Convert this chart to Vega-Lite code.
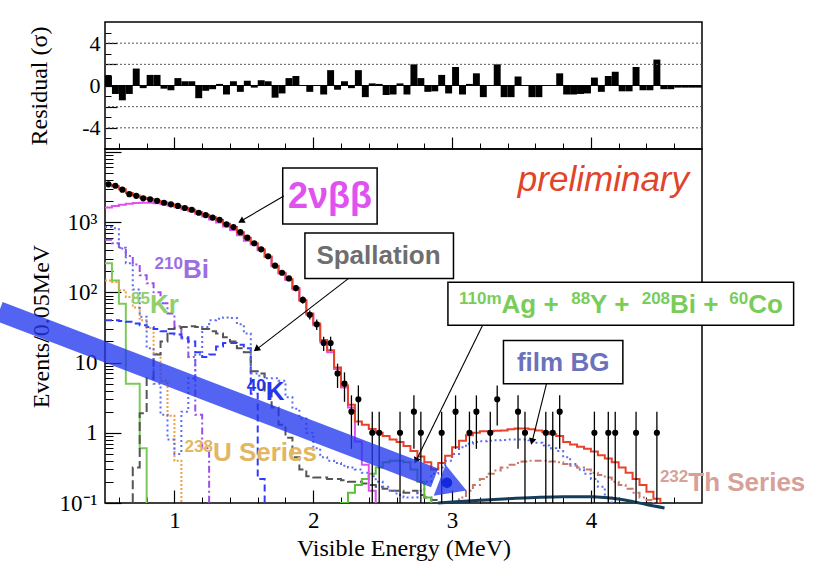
{
"$schema":"https://vega.github.io/schema/vega-lite/v6.json",
"autosize":{"type":"none"},
"padding":{"left":105,"top":22,"right":712,"bottom":544},
"bounds":"flush",
"spacing":0,
"background":"#ffffff",
"datasets":{
"resid":[
{"b":0.5,"e":0.55,"r":0.9},{"b":0.55,"e":0.6,"r":-0.8},{"b":0.6,"e":0.65,"r":-1.4},{"b":0.65,"e":0.7,"r":-0.8},{"b":0.7,"e":0.75,"r":1.6},{"b":0.75,"e":0.8,"r":-0.25},{"b":0.8,"e":0.85,"r":1.0},{"b":0.85,"e":0.9,"r":1.0},{"b":0.9,"e":0.95,"r":-0.3},{"b":0.95,"e":1.0,"r":-0.45},
{"b":1.0,"e":1.05,"r":0.7},{"b":1.05,"e":1.1,"r":0.4},{"b":1.1,"e":1.15,"r":0.4},{"b":1.15,"e":1.2,"r":-1.2},{"b":1.2,"e":1.25,"r":-0.5},{"b":1.25,"e":1.3,"r":-0.35},{"b":1.3,"e":1.35,"r":0.15},{"b":1.35,"e":1.4,"r":-0.85},{"b":1.4,"e":1.45,"r":0.4},{"b":1.45,"e":1.5,"r":-0.6},
{"b":1.5,"e":1.55,"r":0.45},{"b":1.55,"e":1.6,"r":-0.2},{"b":1.6,"e":1.65,"r":0.5},{"b":1.65,"e":1.7,"r":0.4},{"b":1.7,"e":1.75,"r":-1.15},{"b":1.75,"e":1.8,"r":-0.75},{"b":1.8,"e":1.85,"r":0.7},{"b":1.85,"e":1.9,"r":0.9},{"b":1.9,"e":1.95,"r":0.02},{"b":1.95,"e":2.0,"r":-0.6},
{"b":2.0,"e":2.05,"r":0.05},{"b":2.05,"e":2.1,"r":-0.85},{"b":2.1,"e":2.15,"r":1.45},{"b":2.15,"e":2.2,"r":-0.4},{"b":2.2,"e":2.25,"r":0.4},{"b":2.25,"e":2.3,"r":-0.25},{"b":2.3,"e":2.35,"r":1.45},{"b":2.35,"e":2.4,"r":-1.1},{"b":2.4,"e":2.45,"r":0.2},{"b":2.45,"e":2.5,"r":0.15},
{"b":2.5,"e":2.55,"r":-0.9},{"b":2.55,"e":2.6,"r":-0.85},{"b":2.6,"e":2.65,"r":0.2},{"b":2.65,"e":2.7,"r":-0.85},{"b":2.7,"e":2.75,"r":2.0},{"b":2.75,"e":2.8,"r":0.7},{"b":2.8,"e":2.85,"r":-0.6},{"b":2.85,"e":2.9,"r":-0.55},{"b":2.9,"e":2.95,"r":1.0},{"b":2.95,"e":3.0,"r":-0.75},
{"b":3.0,"e":3.05,"r":1.75},{"b":3.05,"e":3.1,"r":-0.85},{"b":3.1,"e":3.15,"r":0.15},{"b":3.15,"e":3.2,"r":1.15},{"b":3.2,"e":3.25,"r":-1.1},{"b":3.25,"e":3.3,"r":0.05},{"b":3.3,"e":3.35,"r":2.0},{"b":3.35,"e":3.4,"r":-1.1},{"b":3.4,"e":3.45,"r":-1.1},{"b":3.45,"e":3.5,"r":0.85},
{"b":3.5,"e":3.55,"r":0.02},{"b":3.55,"e":3.6,"r":-1.1},{"b":3.6,"e":3.65,"r":-1.1},{"b":3.65,"e":3.7,"r":0.05},{"b":3.7,"e":3.75,"r":0.05},{"b":3.75,"e":3.8,"r":1.15},{"b":3.8,"e":3.85,"r":-0.85},{"b":3.85,"e":3.9,"r":-0.85},{"b":3.9,"e":3.95,"r":-0.8},{"b":3.95,"e":4.0,"r":-0.75},
{"b":4.0,"e":4.05,"r":0.75},{"b":4.05,"e":4.1,"r":-0.6},{"b":4.1,"e":4.15,"r":0.9},{"b":4.15,"e":4.2,"r":1.3},{"b":4.2,"e":4.25,"r":-0.55},{"b":4.25,"e":4.3,"r":-0.55},{"b":4.3,"e":4.35,"r":1.75},{"b":4.35,"e":4.4,"r":-0.45},{"b":4.4,"e":4.45,"r":-0.45},{"b":4.45,"e":4.5,"r":2.45},
{"b":4.5,"e":4.55,"r":-0.35},{"b":4.55,"e":4.6,"r":-0.35},{"b":4.6,"e":4.65,"r":-0.2},{"b":4.65,"e":4.7,"r":-0.2},{"b":4.7,"e":4.75,"r":-0.2},{"b":4.75,"e":4.8,"r":-0.2}
],
"pts":[
{"x":0.525,"y":3450,"lo":3391,"hi":3509},{"x":0.575,"y":3300,"lo":3243,"hi":3357},{"x":0.625,"y":2900,"lo":2846,"hi":2954},{"x":0.675,"y":2500,"lo":2450,"hi":2550},{"x":0.725,"y":2370,"lo":2321,"hi":2419},{"x":0.775,"y":2180,"lo":2133,"hi":2227},{"x":0.825,"y":2120,"lo":2074,"hi":2166},{"x":0.875,"y":2010,"lo":1965,"hi":2055},{"x":0.925,"y":1890,"lo":1847,"hi":1933},{"x":0.975,"y":1790,"lo":1748,"hi":1832},
{"x":1.025,"y":1700,"lo":1659,"hi":1741},{"x":1.075,"y":1590,"lo":1550,"hi":1630},{"x":1.125,"y":1500,"lo":1461,"hi":1539},{"x":1.175,"y":1360,"lo":1323,"hi":1397},{"x":1.225,"y":1260,"lo":1225,"hi":1295},{"x":1.275,"y":1160,"lo":1126,"hi":1194},{"x":1.325,"y":1080,"lo":1047,"hi":1113},{"x":1.375,"y":930,"lo":900,"hi":960},{"x":1.425,"y":850,"lo":821,"hi":879},{"x":1.475,"y":720,"lo":693,"hi":747},
{"x":1.525,"y":600,"lo":576,"hi":624},{"x":1.575,"y":500,"lo":478,"hi":522},{"x":1.625,"y":410,"lo":390,"hi":430},{"x":1.675,"y":327,"lo":309,"hi":345},{"x":1.725,"y":240,"lo":224,"hi":256},{"x":1.775,"y":190,"lo":176,"hi":204},{"x":1.825,"y":158,"lo":145,"hi":171},{"x":1.875,"y":115,"lo":104,"hi":126},{"x":1.925,"y":78,"lo":69,"hi":87},{"x":1.975,"y":48,"lo":41,"hi":55},
{"x":2.025,"y":35,"lo":29,"hi":41},{"x":2.075,"y":19,"lo":14.6,"hi":23.4},{"x":2.125,"y":19,"lo":14.6,"hi":23.4},{"x":2.175,"y":7,"lo":4.35,"hi":9.65},{"x":2.225,"y":5,"lo":2.76,"hi":7.24},{"x":2.275,"y":2,"lo":0.59,"hi":3.41},{"x":2.325,"y":3,"lo":1.27,"hi":4.73},
{"x":2.425,"y":1,"lo":0.05,"hi":2},{"x":2.475,"y":1,"lo":0.05,"hi":2},{"x":2.625,"y":1,"lo":0.05,"hi":2},{"x":2.725,"y":2,"lo":0.59,"hi":3.41},{"x":2.775,"y":1,"lo":0.05,"hi":2},{"x":2.925,"y":1,"lo":0.05,"hi":2},{"x":3.025,"y":2,"lo":0.59,"hi":3.41},{"x":3.125,"y":1,"lo":0.05,"hi":2},{"x":3.175,"y":2,"lo":0.59,"hi":3.41},{"x":3.275,"y":1,"lo":0.05,"hi":2},
{"x":3.325,"y":3,"lo":1.27,"hi":4.73},{"x":3.475,"y":2,"lo":0.59,"hi":3.41},{"x":3.525,"y":1,"lo":0.05,"hi":2},{"x":3.675,"y":1,"lo":0.05,"hi":2},{"x":3.725,"y":1,"lo":0.05,"hi":2},{"x":3.775,"y":2,"lo":0.59,"hi":3.41},{"x":4.025,"y":1,"lo":0.05,"hi":2},{"x":4.125,"y":1,"lo":0.05,"hi":2},{"x":4.175,"y":1,"lo":0.05,"hi":2},{"x":4.325,"y":1,"lo":0.05,"hi":2},{"x":4.475,"y":1,"lo":0.05,"hi":2}
],
"hist":[
{"s":"bi","x":0.5,"y":560},{"s":"bi","x":0.55,"y":500},{"s":"bi","x":0.6,"y":420},{"s":"bi","x":0.65,"y":330},{"s":"bi","x":0.7,"y":250},{"s":"bi","x":0.75,"y":175},{"s":"bi","x":0.8,"y":135},{"s":"bi","x":0.85,"y":100},{"s":"bi","x":0.9,"y":70},{"s":"bi","x":0.95,"y":50},{"s":"bi","x":1.0,"y":33},{"s":"bi","x":1.05,"y":22},{"s":"bi","x":1.1,"y":12},{"s":"bi","x":1.15,"y":1.8},{"s":"bi","x":1.2,"y":0.6},{"s":"bi","x":1.25,"y":0.01},
{"s":"kr","x":0.5,"y":260},{"s":"kr","x":0.55,"y":148},{"s":"kr","x":0.6,"y":69},{"s":"kr","x":0.65,"y":5},{"s":"kr","x":0.7,"y":5},{"s":"kr","x":0.75,"y":0.6},{"s":"kr","x":0.8,"y":0.01},
{"s":"u","x":0.5,"y":148},{"s":"u","x":0.55,"y":140},{"s":"u","x":0.6,"y":107},{"s":"u","x":0.65,"y":86},{"s":"u","x":0.7,"y":61},{"s":"u","x":0.75,"y":40},{"s":"u","x":0.8,"y":31},{"s":"u","x":0.85,"y":13.3},{"s":"u","x":0.9,"y":5.5},{"s":"u","x":0.95,"y":1.75},{"s":"u","x":1.0,"y":0.4},{"s":"u","x":1.05,"y":0.01},
{"s":"k","x":0.5,"y":40},{"s":"k","x":0.55,"y":40},{"s":"k","x":0.6,"y":39},{"s":"k","x":0.65,"y":38},{"s":"k","x":0.7,"y":36},{"s":"k","x":0.75,"y":34},{"s":"k","x":0.8,"y":32},{"s":"k","x":0.85,"y":30},{"s":"k","x":0.9,"y":28},{"s":"k","x":0.95,"y":26},{"s":"k","x":1.0,"y":25},{"s":"k","x":1.05,"y":23},{"s":"k","x":1.1,"y":20},{"s":"k","x":1.15,"y":14},{"s":"k","x":1.2,"y":12},{"s":"k","x":1.25,"y":13},{"s":"k","x":1.3,"y":17},{"s":"k","x":1.35,"y":19},{"s":"k","x":1.4,"y":19},{"s":"k","x":1.45,"y":18},{"s":"k","x":1.5,"y":16},{"s":"k","x":1.55,"y":3.6},{"s":"k","x":1.6,"y":0.22},{"s":"k","x":1.65,"y":0.01},
{"s":"sp","x":0.65,"y":0.01},{"s":"sp","x":0.7,"y":0.32},{"s":"sp","x":0.75,"y":1.9},{"s":"sp","x":0.8,"y":6},{"s":"sp","x":0.85,"y":13},{"s":"sp","x":0.9,"y":20},{"s":"sp","x":0.95,"y":30},{"s":"sp","x":1.0,"y":31},{"s":"sp","x":1.05,"y":32},{"s":"sp","x":1.1,"y":33},{"s":"sp","x":1.15,"y":32},{"s":"sp","x":1.2,"y":30},{"s":"sp","x":1.25,"y":28},{"s":"sp","x":1.3,"y":26},{"s":"sp","x":1.35,"y":23},{"s":"sp","x":1.4,"y":20},{"s":"sp","x":1.45,"y":16},{"s":"sp","x":1.5,"y":14},{"s":"sp","x":1.55,"y":7.5},{"s":"sp","x":1.6,"y":7},{"s":"sp","x":1.65,"y":4},{"s":"sp","x":1.7,"y":2.3},{"s":"sp","x":1.75,"y":1.3},{"s":"sp","x":1.8,"y":0.85},{"s":"sp","x":1.85,"y":0.45},{"s":"sp","x":1.9,"y":0.3},{"s":"sp","x":1.95,"y":0.24},{"s":"sp","x":2.0,"y":0.23},{"s":"sp","x":2.05,"y":0.23},{"s":"sp","x":2.1,"y":0.22},{"s":"sp","x":2.15,"y":0.22},{"s":"sp","x":2.2,"y":0.21},{"s":"sp","x":2.25,"y":0.2},{"s":"sp","x":2.3,"y":0.2},{"s":"sp","x":2.35,"y":0.19},{"s":"sp","x":2.4,"y":0.18},{"s":"sp","x":2.45,"y":0.17},{"s":"sp","x":2.5,"y":0.16},{"s":"sp","x":2.55,"y":0.15},{"s":"sp","x":2.6,"y":0.15},{"s":"sp","x":2.65,"y":0.14},{"s":"sp","x":2.7,"y":0.15},{"s":"sp","x":2.75,"y":0.13},{"s":"sp","x":2.8,"y":0.12},{"s":"sp","x":2.85,"y":0.11},{"s":"sp","x":2.9,"y":0.1},{"s":"sp","x":2.95,"y":0.01},
{"s":"bd","x":0.5,"y":850},{"s":"bd","x":0.55,"y":820},{"s":"bd","x":0.6,"y":430},{"s":"bd","x":0.65,"y":260},{"s":"bd","x":0.7,"y":110},{"s":"bd","x":0.75,"y":45},{"s":"bd","x":0.8,"y":16},{"s":"bd","x":0.85,"y":5},{"s":"bd","x":0.9,"y":1.8},{"s":"bd","x":0.95,"y":0.8},{"s":"bd","x":1.0,"y":0.5},{"s":"bd","x":1.05,"y":2},{"s":"bd","x":1.1,"y":6},{"s":"bd","x":1.15,"y":13},{"s":"bd","x":1.2,"y":32},{"s":"bd","x":1.25,"y":40},{"s":"bd","x":1.3,"y":42},{"s":"bd","x":1.35,"y":44},{"s":"bd","x":1.4,"y":43},{"s":"bd","x":1.45,"y":35},{"s":"bd","x":1.5,"y":26},{"s":"bd","x":1.55,"y":7},{"s":"bd","x":1.6,"y":6.5},{"s":"bd","x":1.65,"y":6},{"s":"bd","x":1.7,"y":6},{"s":"bd","x":1.75,"y":5.5},{"s":"bd","x":1.8,"y":3.2},{"s":"bd","x":1.85,"y":2.2},{"s":"bd","x":1.9,"y":1.6},{"s":"bd","x":1.95,"y":1.0},{"s":"bd","x":2.0,"y":0.6},{"s":"bd","x":2.05,"y":0.45},{"s":"bd","x":2.1,"y":0.4},{"s":"bd","x":2.15,"y":0.37},{"s":"bd","x":2.2,"y":0.34},{"s":"bd","x":2.25,"y":0.32},{"s":"bd","x":2.3,"y":0.3},{"s":"bd","x":2.35,"y":0.27},{"s":"bd","x":2.4,"y":0.24},{"s":"bd","x":2.45,"y":0.2},{"s":"bd","x":2.5,"y":0.17},{"s":"bd","x":2.55,"y":0.15},{"s":"bd","x":2.6,"y":0.13},{"s":"bd","x":2.65,"y":0.12},{"s":"bd","x":2.7,"y":0.12},{"s":"bd","x":2.75,"y":0.15},{"s":"bd","x":2.8,"y":0.2},{"s":"bd","x":2.85,"y":0.26},{"s":"bd","x":2.9,"y":0.32},{"s":"bd","x":2.95,"y":0.4},{"s":"bd","x":3.0,"y":0.5},{"s":"bd","x":3.05,"y":0.62},{"s":"bd","x":3.1,"y":0.7},{"s":"bd","x":3.15,"y":0.74},{"s":"bd","x":3.2,"y":0.76},{"s":"bd","x":3.25,"y":0.77},{"s":"bd","x":3.3,"y":0.78},{"s":"bd","x":3.35,"y":0.79},{"s":"bd","x":3.4,"y":0.8},{"s":"bd","x":3.45,"y":0.8},{"s":"bd","x":3.5,"y":0.8},{"s":"bd","x":3.55,"y":0.78},{"s":"bd","x":3.6,"y":0.72},{"s":"bd","x":3.65,"y":0.66},{"s":"bd","x":3.7,"y":0.6},{"s":"bd","x":3.75,"y":0.55},{"s":"bd","x":3.8,"y":0.45},{"s":"bd","x":3.85,"y":0.36},{"s":"bd","x":3.9,"y":0.3},{"s":"bd","x":3.95,"y":0.26},{"s":"bd","x":4.0,"y":0.22},{"s":"bd","x":4.05,"y":0.17},{"s":"bd","x":4.1,"y":0.12},{"s":"bd","x":4.15,"y":0.01},
{"s":"ag","x":2.15,"y":0.01},{"s":"ag","x":2.2,"y":0.1},{"s":"ag","x":2.25,"y":0.14},{"s":"ag","x":2.3,"y":0.18},{"s":"ag","x":2.35,"y":0.22},{"s":"ag","x":2.4,"y":0.26},{"s":"ag","x":2.45,"y":0.32},{"s":"ag","x":2.5,"y":0.38},{"s":"ag","x":2.55,"y":0.4},{"s":"ag","x":2.6,"y":0.4},{"s":"ag","x":2.65,"y":0.38},{"s":"ag","x":2.7,"y":0.3},{"s":"ag","x":2.75,"y":0.2},{"s":"ag","x":2.8,"y":0.12},{"s":"ag","x":2.85,"y":0.01},
{"s":"th","x":3.0,"y":0.01},{"s":"th","x":3.05,"y":0.12},{"s":"th","x":3.1,"y":0.15},{"s":"th","x":3.15,"y":0.18},{"s":"th","x":3.2,"y":0.22},{"s":"th","x":3.25,"y":0.26},{"s":"th","x":3.3,"y":0.29},{"s":"th","x":3.35,"y":0.32},{"s":"th","x":3.4,"y":0.35},{"s":"th","x":3.45,"y":0.37},{"s":"th","x":3.5,"y":0.39},{"s":"th","x":3.55,"y":0.4},{"s":"th","x":3.6,"y":0.4},{"s":"th","x":3.65,"y":0.4},{"s":"th","x":3.7,"y":0.39},{"s":"th","x":3.75,"y":0.38},{"s":"th","x":3.8,"y":0.36},{"s":"th","x":3.85,"y":0.34},{"s":"th","x":3.9,"y":0.32},{"s":"th","x":3.95,"y":0.3},{"s":"th","x":4.0,"y":0.27},{"s":"th","x":4.05,"y":0.25},{"s":"th","x":4.1,"y":0.23},{"s":"th","x":4.15,"y":0.2},{"s":"th","x":4.2,"y":0.18},{"s":"th","x":4.25,"y":0.16},{"s":"th","x":4.3,"y":0.14},{"s":"th","x":4.35,"y":0.12},{"s":"th","x":4.4,"y":0.11},{"s":"th","x":4.45,"y":0.1},{"s":"th","x":4.5,"y":0.01},
{"s":"bb","x":0.5,"y":1620},{"s":"bb","x":0.55,"y":1700},{"s":"bb","x":0.6,"y":1770},{"s":"bb","x":0.65,"y":1830},{"s":"bb","x":0.7,"y":1870},{"s":"bb","x":0.75,"y":1890},{"s":"bb","x":0.8,"y":1890},{"s":"bb","x":0.85,"y":1860},{"s":"bb","x":0.9,"y":1800},{"s":"bb","x":0.95,"y":1720},{"s":"bb","x":1.0,"y":1630},{"s":"bb","x":1.05,"y":1530},{"s":"bb","x":1.1,"y":1430},{"s":"bb","x":1.15,"y":1320},{"s":"bb","x":1.2,"y":1200},{"s":"bb","x":1.25,"y":1090},{"s":"bb","x":1.3,"y":985},{"s":"bb","x":1.35,"y":865},{"s":"bb","x":1.4,"y":770},{"s":"bb","x":1.45,"y":650},{"s":"bb","x":1.5,"y":545},{"s":"bb","x":1.55,"y":480},{"s":"bb","x":1.6,"y":398},{"s":"bb","x":1.65,"y":318},{"s":"bb","x":1.7,"y":235},{"s":"bb","x":1.75,"y":185},{"s":"bb","x":1.8,"y":150},{"s":"bb","x":1.85,"y":110},{"s":"bb","x":1.9,"y":75},{"s":"bb","x":1.95,"y":48},{"s":"bb","x":2.0,"y":34},{"s":"bb","x":2.05,"y":19.5},{"s":"bb","x":2.1,"y":14},{"s":"bb","x":2.15,"y":8.1},{"s":"bb","x":2.2,"y":4.4},{"s":"bb","x":2.25,"y":2.3},{"s":"bb","x":2.3,"y":0.75},{"s":"bb","x":2.35,"y":0.35},{"s":"bb","x":2.4,"y":0.15},{"s":"bb","x":2.45,"y":0.01},
{"s":"tot","x":0.5,"y":3400},{"s":"tot","x":0.55,"y":3250},{"s":"tot","x":0.6,"y":2950},{"s":"tot","x":0.65,"y":2600},{"s":"tot","x":0.7,"y":2400},{"s":"tot","x":0.75,"y":2230},{"s":"tot","x":0.8,"y":2130},{"s":"tot","x":0.85,"y":2020},{"s":"tot","x":0.9,"y":1900},{"s":"tot","x":0.95,"y":1800},{"s":"tot","x":1.0,"y":1700},{"s":"tot","x":1.05,"y":1600},{"s":"tot","x":1.1,"y":1500},{"s":"tot","x":1.15,"y":1380},{"s":"tot","x":1.2,"y":1270},{"s":"tot","x":1.25,"y":1170},{"s":"tot","x":1.3,"y":1070},{"s":"tot","x":1.35,"y":950},{"s":"tot","x":1.4,"y":850},{"s":"tot","x":1.45,"y":720},{"s":"tot","x":1.5,"y":600},{"s":"tot","x":1.55,"y":500},{"s":"tot","x":1.6,"y":410},{"s":"tot","x":1.65,"y":325},{"s":"tot","x":1.7,"y":240},{"s":"tot","x":1.75,"y":190},{"s":"tot","x":1.8,"y":155},{"s":"tot","x":1.85,"y":115},{"s":"tot","x":1.9,"y":78},{"s":"tot","x":1.95,"y":50},{"s":"tot","x":2.0,"y":36},{"s":"tot","x":2.05,"y":21},{"s":"tot","x":2.1,"y":15},{"s":"tot","x":2.15,"y":8.5},{"s":"tot","x":2.2,"y":4.7},{"s":"tot","x":2.25,"y":2.5},{"s":"tot","x":2.3,"y":1.45},{"s":"tot","x":2.35,"y":1.3},{"s":"tot","x":2.4,"y":1.13},{"s":"tot","x":2.45,"y":1.0},{"s":"tot","x":2.5,"y":0.9},{"s":"tot","x":2.55,"y":0.8},{"s":"tot","x":2.6,"y":0.74},{"s":"tot","x":2.65,"y":0.65},{"s":"tot","x":2.7,"y":0.55},{"s":"tot","x":2.75,"y":0.46},{"s":"tot","x":2.8,"y":0.38},{"s":"tot","x":2.85,"y":0.3},{"s":"tot","x":2.9,"y":0.37},{"s":"tot","x":2.95,"y":0.47},{"s":"tot","x":3.0,"y":0.62},{"s":"tot","x":3.05,"y":0.77},{"s":"tot","x":3.1,"y":0.92},{"s":"tot","x":3.15,"y":1.0},{"s":"tot","x":3.2,"y":1.05},{"s":"tot","x":3.25,"y":1.05},{"s":"tot","x":3.3,"y":1.07},{"s":"tot","x":3.35,"y":1.08},{"s":"tot","x":3.4,"y":1.12},{"s":"tot","x":3.45,"y":1.15},{"s":"tot","x":3.5,"y":1.15},{"s":"tot","x":3.55,"y":1.12},{"s":"tot","x":3.6,"y":1.08},{"s":"tot","x":3.65,"y":1.02},{"s":"tot","x":3.7,"y":0.95},{"s":"tot","x":3.75,"y":0.9},{"s":"tot","x":3.8,"y":0.74},{"s":"tot","x":3.85,"y":0.68},{"s":"tot","x":3.9,"y":0.63},{"s":"tot","x":3.95,"y":0.59},{"s":"tot","x":4.0,"y":0.54},{"s":"tot","x":4.05,"y":0.48},{"s":"tot","x":4.1,"y":0.43},{"s":"tot","x":4.15,"y":0.38},{"s":"tot","x":4.2,"y":0.32},{"s":"tot","x":4.25,"y":0.27},{"s":"tot","x":4.3,"y":0.22},{"s":"tot","x":4.35,"y":0.18},{"s":"tot","x":4.4,"y":0.145},{"s":"tot","x":4.45,"y":0.115},{"s":"tot","x":4.5,"y":0.01}
],
"tl":[{"x":2.9,"y":0.1},{"x":3.0,"y":0.103},{"x":3.2,"y":0.109},{"x":3.4,"y":0.115},{"x":3.6,"y":0.12},{"x":3.8,"y":0.123},{"x":4.0,"y":0.123},{"x":4.1,"y":0.12},{"x":4.2,"y":0.114},{"x":4.3,"y":0.105},{"x":4.4,"y":0.095},{"x":4.53,"y":0.085}],
"boxes":[{"k":"bb","x":1.78,"x2":2.46,"y":5900,"y2":940},{"k":"sp","x":1.94,"x2":3.01,"y":700,"y2":158},{"k":"ag","x":2.97,"x2":5.46,"y":139,"y2":34},{"k":"fb","x":3.37,"x2":4.23,"y":20.6,"y2":5.0}],
"notes":[{"k":"bb","t":"2νββ","x":2.12,"y":2280},{"k":"sp","t":"Spallation","x":2.47,"y":327},{"k":"fb","t":"film BG","x":3.8,"y":10},{"k":"pre","t":"preliminary","x":4.09,"y":3980}],
"lbl":[
{"k":"bi","t":"210","x":1.061,"y":158.5,"p":"s"},{"k":"bi","t":"Bi","x":1.061,"y":158.5,"p":"m"},
{"k":"kr","t":"85","x":0.824,"y":50.1,"p":"s"},{"k":"kr","t":"Kr","x":0.824,"y":50.1,"p":"m"},
{"k":"k","t":"40","x":1.658,"y":2.93,"p":"s"},{"k":"k","t":"K","x":1.658,"y":2.93,"p":"m"},
{"k":"u","t":"238","x":1.277,"y":0.398,"p":"s"},{"k":"u","t":"U Series","x":1.277,"y":0.398,"p":"m"},
{"k":"th","t":"232","x":4.701,"y":0.148,"p":"s"},{"k":"th","t":"Th Series","x":4.701,"y":0.148,"p":"m"},
{"k":"ag","t":"110m","x":3.356,"y":50.6,"p":"s"},{"k":"ag","t":"Ag +","x":3.356,"y":50.6,"p":"m"},
{"k":"ag","t":"88","x":3.994,"y":50.6,"p":"s"},{"k":"ag","t":"Y +","x":3.994,"y":50.6,"p":"m"},
{"k":"ag","t":"208","x":4.57,"y":50.6,"p":"s"},{"k":"ag","t":"Bi +","x":4.57,"y":50.6,"p":"m"},
{"k":"ag","t":"60","x":5.133,"y":50.6,"p":"s"},{"k":"ag","t":"Co","x":5.133,"y":50.6,"p":"m"}
],
"arr":[{"k":"bb","x":1.788,"y":2350},{"k":"bb","x":1.47,"y":1010},{"k":"sp","x":2.255,"y":158},{"k":"sp","x":1.58,"y":14.8},{"k":"ag","x":3.219,"y":33.8},{"k":"ag","x":2.735,"y":0.38},{"k":"fb","x":3.68,"y":5.0},{"k":"fb","x":3.574,"y":0.72},{"k":"band","x":-0.263,"y":53.6},{"k":"band","x":2.874,"y":0.228}],
"tips":[{"k":"bb","x":1.48,"y":1030},{"k":"sp","x":1.59,"y":15.5},{"k":"ag","x":2.74,"y":0.4},{"k":"fb","x":3.575,"y":0.75},{"k":"band","x":3.007,"y":0.178},{"k":"dot","x":2.963,"y":0.195}]
},
"vconcat":[
{
"width":597,"height":127,
"layer":[
{"data":{"name":"resid"},"mark":{"type":"rect","color":"#000000"},
 "encoding":{
  "x":{"field":"b","type":"quantitative","scale":{"domain":[0.5,4.8],"nice":false,"zero":false},"axis":{"orient":"bottom","values":[1,2,3,4],"labels":false,"tickSize":-12,"tickWidth":1.2,"title":null}},
  "x2":{"field":"e"},
  "y":{"field":"r","type":"quantitative","scale":{"domain":[-6,6],"nice":false,"zero":false},"axis":{"orient":"left","values":[-4,-2,0,2,4],"tickSize":-12,"tickWidth":1.2,"labelPadding":17,"labelFontSize":22,"labelExpr":"'' + datum.value","title":"Residual (σ)","titleFontSize":24,"titleX":-54}},
  "y2":{"datum":0}}},
{"data":{"name":"resid"},"mark":{"type":"point","opacity":0},
 "encoding":{
  "x":{"field":"b","type":"quantitative","scale":{"domain":[0.5,4.8],"nice":false,"zero":false},"axis":{"orient":"bottom","values":[0.6,0.8,1.2,1.4,1.6,1.8,2.2,2.4,2.6,2.8,3.2,3.4,3.6,3.8,4.2,4.4,4.6],"labels":false,"tickSize":-6,"title":null}},
  "y":{"field":"r","type":"quantitative","scale":{"domain":[-6,6],"nice":false,"zero":false},"axis":{"orient":"left","values":[-5,-3,-1,1,3,5],"labels":false,"tickSize":-6,"title":null}}}},
{"data":{"values":[{"g":-4},{"g":-2},{"g":2},{"g":4}]},"mark":{"type":"rule","color":"#555555","strokeDash":[2,2],"strokeWidth":1},
 "encoding":{"y":{"field":"g","type":"quantitative","scale":{"domain":[-6,6],"nice":false,"zero":false},"axis":null}}},
{"data":{"values":[{"g":0}]},"mark":{"type":"rule","color":"#000000","strokeWidth":1.2},
 "encoding":{"y":{"field":"g","type":"quantitative","scale":{"domain":[-6,6],"nice":false,"zero":false},"axis":null}}}
],
"resolve":{"axis":{"x":"independent","y":"independent"}}
},
{
"width":597,"height":354,
"encoding":{
 "x":{"field":"x","type":"quantitative","scale":{"domain":[0.5,4.8],"nice":false,"zero":false},"axis":null},
 "y":{"field":"y","type":"quantitative","scale":{"type":"log","domain":[0.1,11000],"nice":false},"axis":null}
},
"layer":[
{"data":{"name":"pts"},"mark":{"type":"point","opacity":0},
 "encoding":{
  "x":{"field":"x","type":"quantitative","scale":{"domain":[0.5,4.8],"nice":false,"zero":false},"axis":{"orient":"bottom","values":[0.6,0.8,1.2,1.4,1.6,1.8,2.2,2.4,2.6,2.8,3.2,3.4,3.6,3.8,4.2,4.4,4.6],"labels":false,"tickSize":-6,"title":null}},
  "y":{"field":"y","type":"quantitative","scale":{"type":"log","domain":[0.1,11000],"nice":false},"axis":{"orient":"left","values":[0.2,0.3,0.4,0.5,0.6,0.7,0.8,0.9,2,3,4,5,6,7,8,9,20,30,40,50,60,70,80,90,200,300,400,500,600,700,800,900,2000,3000,4000,5000,6000,7000,8000,9000],"labels":false,"tickSize":-8,"title":null}}}},
{"data":{"name":"hist"},"mark":{"type":"line","interpolate":"step-after","clip":true},
 "encoding":{
  "x":{"field":"x","type":"quantitative","scale":{"domain":[0.5,4.8],"nice":false,"zero":false},"axis":{"orient":"bottom","values":[1,2,3,4],"format":"d","tickSize":-13,"tickWidth":1.2,"labelPadding":19,"labelFontSize":23,"title":"Visible Energy (MeV)","titleFontSize":24,"titleY":45,"titleBaseline":"middle"}},
  "y":{"field":"y","type":"quantitative","scale":{"type":"log","domain":[0.1,11000],"nice":false},"axis":{"orient":"left","values":[0.1,1,10,100,1000,10000],"tickSize":-16,"tickWidth":1.2,"labelPadding":24,"labelFontSize":23,"labelExpr":"datum.value < 0.5 ? '10⁻¹' : datum.value < 5 ? '1' : datum.value < 50 ? '10' : datum.value < 500 ? '10²' : datum.value < 5000 ? '10³' : ''","title":"Events/0.05MeV","titleFontSize":24,"titleX":-52}},
  "color":{"field":"s","type":"nominal","legend":null,"scale":{"domain":["tot","bb","bi","kr","u","k","sp","bd","ag","th"],"range":["#e8412c","#e052f0","#9a50e6","#7cc95a","#f0a040","#2f3cff","#555555","#5d6cf0","#5cbf3c","#c8786c"]}},
  "strokeDash":{"field":"s","type":"nominal","legend":null,"scale":{"domain":["tot","bb","bi","kr","u","k","sp","bd","ag","th"],"range":[[1,0],[1,0],[7,3,2,3],[1,0],[2,2],[7,4],[9,4],[2,3],[1,0],[7,3,2,3]]}}
 }},
{"data":{"name":"tl"},"mark":{"type":"line","interpolate":"monotone","color":"#163e5b","strokeWidth":3,"clip":false}},
{"data":{"name":"pts"},"mark":{"type":"rule","color":"#000000","strokeWidth":1.3,"clip":true},
 "encoding":{"y":{"field":"lo","type":"quantitative","scale":{"type":"log","domain":[0.1,11000],"nice":false},"axis":null},"y2":{"field":"hi"}}},
{"data":{"name":"pts"},"mark":{"type":"circle","color":"#000000","size":38,"opacity":1}},
{"data":{"name":"boxes"},"mark":{"type":"rect","fill":"#ffffff","stroke":"#000000","strokeWidth":1.5,"clip":false},
 "encoding":{"x2":{"field":"x2"},"y2":{"field":"y2"}}},
{"data":{"name":"arr"},"transform":[{"filter":"datum.k != 'band'"}],"mark":{"type":"line","color":"#000000","strokeWidth":1.1,"clip":false},
 "encoding":{"detail":{"field":"k","type":"nominal"}}},
{"data":{"name":"tips"},"transform":[{"filter":"datum.k == 'bb'"}],"mark":{"type":"point","shape":"triangle-up","angle":240,"size":55,"filled":true,"color":"#000000","opacity":1}},
{"data":{"name":"tips"},"transform":[{"filter":"datum.k == 'sp'"}],"mark":{"type":"point","shape":"triangle-up","angle":232,"size":55,"filled":true,"color":"#000000","opacity":1}},
{"data":{"name":"tips"},"transform":[{"filter":"datum.k == 'ag'"}],"mark":{"type":"point","shape":"triangle-up","angle":206,"size":55,"filled":true,"color":"#000000","opacity":1}},
{"data":{"name":"tips"},"transform":[{"filter":"datum.k == 'fb'"}],"mark":{"type":"point","shape":"triangle-up","angle":194,"size":55,"filled":true,"color":"#000000","opacity":1}},
{"data":{"name":"notes"},"transform":[{"filter":"datum.k == 'bb'"}],"mark":{"type":"text","font":"Liberation Sans","fontWeight":"bold","fontSize":36,"color":"#e052f0","clip":false},
 "encoding":{"text":{"field":"t"}}},
{"data":{"name":"notes"},"transform":[{"filter":"datum.k == 'sp' || datum.k == 'fb'"}],"mark":{"type":"text","font":"Liberation Sans","fontWeight":"bold","fontSize":26,"clip":false},
 "encoding":{"text":{"field":"t"},"color":{"field":"k","type":"nominal","legend":null,"scale":{"domain":["sp","fb"],"range":["#6e6e6e","#6a72bc"]}}}},
{"data":{"name":"lbl"},"transform":[{"filter":"datum.p == 's'"}],"mark":{"type":"text","font":"Liberation Sans","fontWeight":"bold","fontSize":17,"align":"right","baseline":"alphabetic","dy":-9,"clip":false},
 "encoding":{"text":{"field":"t"},"color":{"field":"k","type":"nominal","legend":null,"scale":{"domain":["ag","bi","kr","k","u","th"],"range":["#7acc5a","#9d6ee0","#8fd06c","#2436ee","#e2b662","#d6a198"]}}}},
{"data":{"name":"lbl"},"transform":[{"filter":"datum.p == 'm'"}],"mark":{"type":"text","font":"Liberation Sans","fontWeight":"bold","fontSize":26,"align":"left","baseline":"alphabetic","clip":false},
 "encoding":{"text":{"field":"t"},"color":{"field":"k","type":"nominal","legend":null,"scale":{"domain":["ag","bi","kr","k","u","th"],"range":["#7acc5a","#9d6ee0","#8fd06c","#2436ee","#e2b662","#d6a198"]}}}},
{"data":{"name":"notes"},"transform":[{"filter":"datum.k == 'pre'"}],"mark":{"type":"text","font":"Liberation Sans","fontStyle":"italic","fontSize":35,"color":"#e0442a","clip":false},
 "encoding":{"text":{"field":"t"}}},
{"data":{"name":"arr"},"transform":[{"filter":"datum.k == 'band'"}],"mark":{"type":"line","color":"#2237ee","strokeWidth":20,"opacity":0.78,"strokeCap":"butt","clip":false}},
{"data":{"name":"tips"},"transform":[{"filter":"datum.k == 'band'"}],"mark":{"type":"point","shape":"triangle-up","angle":111,"size":1100,"filled":true,"color":"#2237ee","opacity":0.78}},
{"data":{"name":"tips"},"transform":[{"filter":"datum.k == 'dot'"}],"mark":{"type":"circle","size":110,"color":"#1428dd","opacity":1}}
],
"resolve":{"axis":{"x":"independent","y":"independent"},"scale":{"color":"independent"}}
}
],
"config":{
 "view":{"stroke":"#000000","strokeWidth":1.5},
 "axis":{"domain":false,"grid":false,"tickColor":"#000000","labelColor":"#000000","titleColor":"#000000","labelFont":"Liberation Serif","titleFont":"Liberation Serif","titleFontWeight":"normal"}
}
}
